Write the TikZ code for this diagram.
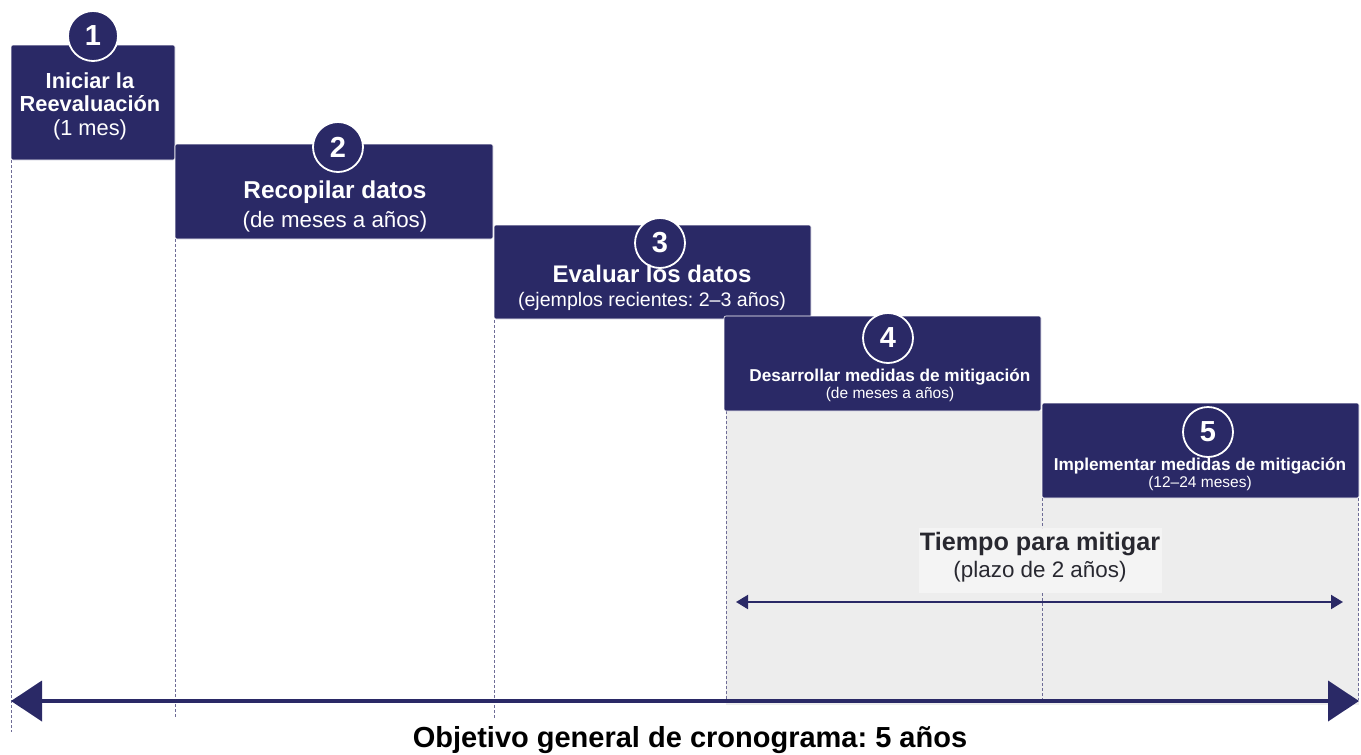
\documentclass[tikz,border=0pt]{standalone}
\usepackage{fontspec}
\setmainfont{Liberation Sans}
\usetikzlibrary{arrows.meta}
\frenchspacing
\definecolor{navy}{RGB}{42,41,102}
\definecolor{dashc}{RGB}{110,108,150}
\definecolor{greyfill}{RGB}{237,237,237}
\definecolor{greylight}{RGB}{244,244,244}
\definecolor{txtgray}{RGB}{40,40,48}
\tikzset{
  stepbox/.style={fill=navy, draw=white, line width=0.6pt, rounded corners=2pt},
  numcirc/.style={circle, fill=navy, draw=white, line width=1.8pt, minimum size=50pt, inner sep=0pt, text=white, font=\fontsize{29}{30}\selectfont\bfseries},
  guide/.style={draw=dashc, line width=0.8pt, dash pattern=on 3pt off 2pt},
  boxtxt/.style={text=white, align=center, inner sep=0pt},
}
\begin{document}
\begin{tikzpicture}[x=1pt,y=-1pt]
\useasboundingbox (0,0) rectangle (1361,755);
% shaded region
\fill[greyfill] (726,411) rectangle (1359,705);
\node[fill=greylight, minimum width=243pt, minimum height=65pt, inner sep=0pt] (tbg) at (1040.5,560.5) {};
% guides
\coordinate (g1a) at (11,160); \coordinate (g1b) at (11,732);
\coordinate (g2a) at (175,239); \coordinate (g2b) at (175,718);
\coordinate (g3a) at (494,320); \coordinate (g3b) at (494,718);
\coordinate (g4a) at (726,411); \coordinate (g4b) at (726,700);
\coordinate (g5a) at (1042,498); \coordinate (g5b) at (1042,528);
\coordinate (g5c) at (1042,593); \coordinate (g5d) at (1042,700);
\coordinate (g6a) at (1358,498); \coordinate (g6b) at (1358,700);
\draw[guide] (g1a) -- (g1b);
\draw[guide] (g2a) -- (g2b);
\draw[guide] (g3a) -- (g3b);
\draw[guide] (g4a) -- (g4b);
\draw[guide] (g5a) -- (g5b);
\draw[guide] (g5c) -- (g5d);
\draw[guide] (g6a) -- (g6b);
% boxes
\draw[stepbox] (11,45) rectangle (175,160);
\draw[stepbox] (175,144) rectangle (493,239);
\draw[stepbox] (494,225) rectangle (811,319);
\draw[stepbox] (724,316) rectangle (1041,411);
\draw[stepbox] (1042,403) rectangle (1359,498);
% numbers
\node[numcirc] (c1) at (93,36) {1};
\node[numcirc] (c2) at (338,147) {2};
\node[numcirc] (c3) at (660,243) {3};
\node[numcirc] (c4) at (888,338) {4};
\node[numcirc] (c5) at (1208,432) {5};
% texts
\node[boxtxt, font=\fontsize{21.8}{23.5}\selectfont] (t1) at (90,106) {\textbf{Iniciar la}\\\textbf{Reevaluación}\\(1 mes)};
\node[boxtxt, font=\fontsize{24.4}{29}\selectfont] (t2) at (335,206) {\textbf{Recopilar datos}\\{\fontsize{22.3}{22}\selectfont(de meses a años)}};
\node[boxtxt, font=\fontsize{24}{24}\selectfont] (t3) at (652,288) {\textbf{Evaluar los datos}\\{\fontsize{19.6}{19}\selectfont(ejemplos recientes: 2–3 años)}};
\node[boxtxt, font=\fontsize{17.2}{17.5}\selectfont] (t4) at (890,385.5) {\textbf{Desarrollar medidas de mitigación}\\{\fontsize{15.5}{15}\selectfont(de meses a años)}};
\node[boxtxt, font=\fontsize{17.2}{17}\selectfont] (t5) at (1200,474) {\textbf{Implementar medidas de mitigación}\\{\fontsize{15.5}{14}\selectfont(12–24 meses)}};
\node[text=txtgray, align=center, inner sep=0pt, font=\fontsize{25.2}{27}\selectfont] (tt) at (1040,557) {\textbf{Tiempo para mitigar}\\{\fontsize{22.4}{22}\selectfont(plazo de 2 años)}};
% arrows
\coordinate (a1) at (736,602); \coordinate (a2) at (1343,602);
\draw[navy, line width=2pt, {Triangle[length=12pt,width=14pt]}-{Triangle[length=12pt,width=14pt]}] (a1) -- (a2);
\coordinate (m1) at (11,701); \coordinate (m2) at (1359,701);
\draw[navy, line width=4pt, {Triangle[length=31pt,width=40pt]}-{Triangle[length=31pt,width=40pt]}] (m1) -- (m2);
\node[inner sep=0pt, font=\fontsize{29}{29}\selectfont\bfseries] (title) at (690,740) {Objetivo general de cronograma: 5 años};
\end{tikzpicture}
\end{document}
